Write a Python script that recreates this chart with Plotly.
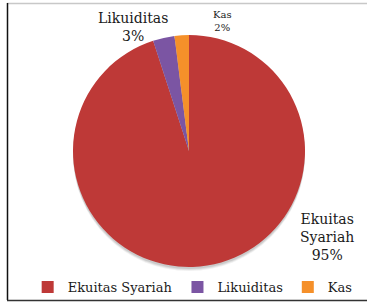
import plotly.graph_objects as go

labels = ["Ekuitas Syariah", "Likuiditas", "Kas"]
values = [95, 3, 2]
colors = ["#BE3937", "#7B55A3", "#F5902A"]
pct_labels = ["95%", "3%", "2%"]

W, H = 367, 302
cx, cy, R = 189, 151, 116

fig = go.Figure(go.Pie(
    labels=labels, values=values, sort=False, direction="clockwise", rotation=0,
    marker=dict(colors=colors, line=dict(width=0)),
    textinfo="none", hoverinfo="label+percent",
    domain=dict(x=[(cx - R) / W, (cx + R) / W], y=[1 - (cy + R) / H, 1 - (cy - R) / H]),
))

font = "DejaVu Serif"
ann = [
    dict(text=f"Likuiditas<br>{pct_labels[1]}", x=133 / W, y=1 - 27 / H, size=14),
    dict(text=f"Kas<br>{pct_labels[2]}", x=222 / W, y=1 - 21 / H, size=10),
    dict(text=f"Ekuitas<br>Syariah<br>{pct_labels[0]}", x=327 / W, y=1 - 237 / H, size=14),
]
annotations = [dict(text=a["text"], x=a["x"], y=a["y"], xref="paper", yref="paper",
                    showarrow=False, xanchor="center", yanchor="middle",
                    font=dict(family=font, size=a["size"], color="#1a1a1a"))
               for a in ann]

shapes = []
# soft shadow under the pie
for off, op in [(4, 0.10), (3, 0.15), (2, 0.2)]:
    shapes.append(dict(type="circle", xref="paper", yref="paper", layer="below",
                       x0=(cx - R) / W, x1=(cx + R) / W,
                       y0=1 - (cy + R + off) / H, y1=1 - (cy - R + off) / H,
                       fillcolor="#777777", opacity=op, line=dict(width=0)))
shapes += [
    dict(type="line", xref="paper", yref="paper", x0=7 / W, x1=1.02, y0=1 - 3.5 / H, y1=1 - 3.5 / H,
         line=dict(color="#c8c8c8", width=1.5)),
    dict(type="line", xref="paper", yref="paper", x0=7.5 / W, x1=7.5 / W, y0=1 - 3 / H, y1=1 - 300 / H,
         line=dict(color="#111111", width=1.5)),
    dict(type="line", xref="paper", yref="paper", x0=7 / W, x1=1.02, y0=1 - 300.5 / H, y1=1 - 300.5 / H,
         line=dict(color="#333333", width=1.5)),
]

fig.update_layout(
    width=W, height=H, margin=dict(l=0, r=0, t=0, b=0),
    paper_bgcolor="white", plot_bgcolor="white",
    showlegend=True,
    legend=dict(orientation="h", x=0.525, xanchor="center", y=1 - 287 / H, yanchor="middle",
                font=dict(family=font, size=13, color="#1a1a1a"), itemwidth=30,
                tracegroupgap=0, bgcolor="rgba(0,0,0,0)"),
    annotations=annotations, shapes=shapes,
)
fig.write_html("out.html", config={"displayModeBar": False},
               post_script="document.body.style.margin='0';document.body.style.overflow='hidden';")
